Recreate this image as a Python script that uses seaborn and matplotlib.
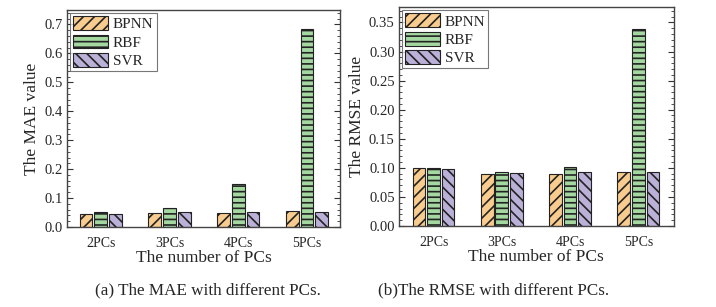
import matplotlib
matplotlib.use("Agg")
import matplotlib.pyplot as plt
import seaborn as sns
import pandas as pd
from matplotlib.ticker import AutoMinorLocator, MultipleLocator, FormatStrFormatter

# values
pcs = ["2PCs", "3PCs", "4PCs", "5PCs"]
models = ["BPNN", "RBF", "SVR"]
mae_bpnn = [0.044, 0.048, 0.048, 0.056]
mae_rbf = [0.051, 0.065, 0.148, 0.686]
mae_svr = [0.044, 0.051, 0.051, 0.051]
rmse_bpnn = [0.100, 0.089, 0.090, 0.092]
rmse_rbf = [0.100, 0.093, 0.102, 0.339]
rmse_svr = [0.098, 0.091, 0.092, 0.092]

colors = ["#F8CB8E", "#A4D8A0", "#BBB0D8"]
hatches = ["///", "---", "\\\\\\"]

sns.set_theme(style="white")
plt.rcParams["font.family"] = ["Liberation Serif", "DejaVu Serif"]
plt.rcParams["hatch.linewidth"] = 1.2


def long_df(bpnn, rbf, svr):
    rows = []
    for name, vals in zip(models, [bpnn, rbf, svr]):
        for pc, v in zip(pcs, vals):
            rows.append({"PCs": pc, "Model": name, "Value": v})
    return pd.DataFrame(rows)


def draw(ax, df, ylabel, ymax, major, xlim, fmt):
    sns.barplot(data=df, x="PCs", y="Value", hue="Model", hue_order=models,
                palette=colors, width=0.64, gap=0.13, edgecolor="#222222",
                linewidth=0.8, saturation=1, legend=False, ax=ax)
    for cont, h in zip(ax.containers, hatches):
        for bar in cont:
            bar.set_hatch(h)
    ax.set_ylim(0, ymax)
    ax.set_xlim(*xlim)
    ax.yaxis.set_major_locator(MultipleLocator(major))
    ax.yaxis.set_minor_locator(AutoMinorLocator(5))
    ax.yaxis.set_major_formatter(FormatStrFormatter(fmt))
    ax.tick_params(axis="y", which="major", direction="in", length=4, width=0.8,
                   left=True, right=True, labelsize=10.5, pad=3, color="#333333")
    ax.tick_params(axis="y", which="minor", direction="in", length=2, width=0.6,
                   left=True, right=True, color="#333333")
    ax.tick_params(axis="x", bottom=False, labelsize=10, pad=1.5)
    for sp in ax.spines.values():
        sp.set_color("#444444")
        sp.set_linewidth(1.0)
    ax.set_xlabel("The number of PCs", fontsize=12.5, labelpad=0)
    ax.set_ylabel(ylabel, fontsize=12.5, labelpad=3)
    leg = ax.legend(ax.containers, models, loc="upper left", fontsize=11,
                    frameon=True, fancybox=False, edgecolor="#555555",
                    handlelength=2.3, handleheight=1.0, handletextpad=0.3,
                    labelspacing=0.22, borderpad=0.2, borderaxespad=0.2)
    leg.get_frame().set_linewidth(0.8)


fig = plt.figure(figsize=(7.16, 3.07), dpi=100)
ax1 = fig.add_axes([0.0936, 0.2606, 0.3813, 0.7068])
ax2 = fig.add_axes([0.557, 0.264, 0.384, 0.712])

draw(ax1, long_df(mae_bpnn, mae_rbf, mae_svr), "The MAE value", 0.75, 0.1,
     (-0.49, 3.48), "%.1f")
draw(ax2, long_df(rmse_bpnn, rmse_rbf, rmse_svr), "The RMSE value", 0.376, 0.05,
     (-0.51, 3.52), "%.2f")

fig.text(0.291, 0.04, "(a) The MAE with different PCs.", ha="center", fontsize=12.3)
fig.text(0.689, 0.04, "(b)The RMSE with different PCs.", ha="center", fontsize=12.3)

fig.savefig("out.png", dpi=100)
